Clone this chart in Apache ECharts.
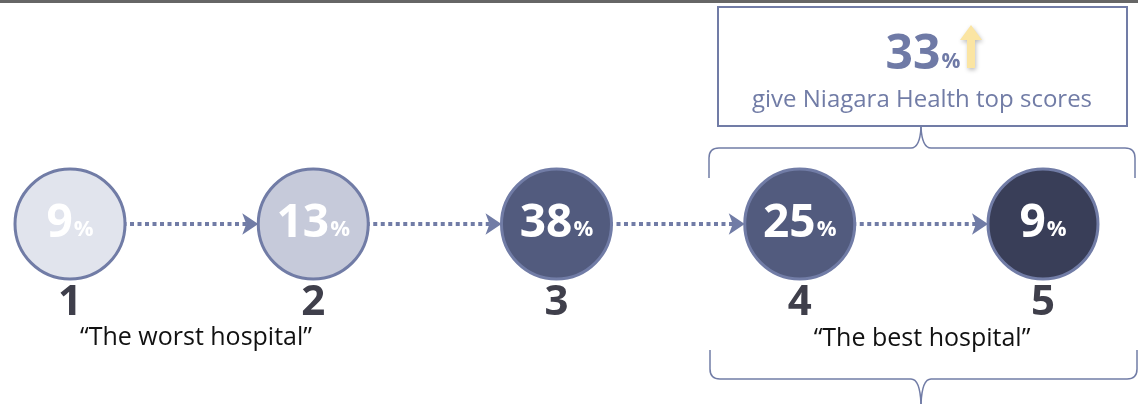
<!DOCTYPE html>
<html><head><meta charset="utf-8">
<script src="https://cdn.jsdelivr.net/npm/echarts@6/dist/echarts.min.js"></script>
<style>html,body{margin:0;padding:0;background:#fff}#c{width:1138px;height:404px}</style>
</head><body><div id="c"></div>
<script>
const ranks = ['1', '2', '3', '4', '5'];
const rankPos = [1, 2, 3, 4, 5];
const shares = [9, 13, 38, 25, 9];
const fills = ['#e1e4ed', '#c6cada', '#525b7e', '#525b7e', '#393e58'];
const topShare = 33;
const topText = 'give Niagara Health top scores';
const worstText = '\u201CThe worst hospital\u201D';
const bestText = '\u201CThe best hospital\u201D';

const FONT = '"Open Sans", "Noto Sans", sans-serif';
const BORDER = '#717ca6';

const nodes = ranks.map((r, i) => ({
  name: r,
  value: [rankPos[i], 0, shares[i]],
  itemStyle: { color: fills[i] }
}));
const links = ranks.slice(1).map((r, i) => ({ source: ranks[i], target: r }));

// brace drawn from straight lines and quadratic curves
function brace(xl, xr, yEnd, yBar, xTip, yTip, r) {
  const st = { stroke: BORDER, lineWidth: 1.5, fill: null };
  const dir = yBar < yEnd ? 1 : -1;
  const L = (x1, y1, x2, y2) => ({ type: 'line', shape: { x1, y1, x2, y2 }, style: st });
  const Q = (x1, y1, cx, cy, x2, y2) => ({ type: 'bezierCurve', shape: { x1, y1, cpx1: cx, cpy1: cy, x2, y2 }, style: st });
  return [
    L(xl, yEnd, xl, yBar + dir * r),
    Q(xl, yBar + dir * r, xl, yBar, xl + r, yBar),
    L(xl + r, yBar, xTip - 10, yBar),
    Q(xTip - 10, yBar, xTip - 1, yBar, xTip, yTip),
    Q(xTip, yTip, xTip + 1, yBar, xTip + 10, yBar),
    L(xTip + 10, yBar, xr - r, yBar),
    Q(xr - r, yBar, xr, yBar, xr, yBar + dir * r),
    L(xr, yBar + dir * r, xr, yEnd)
  ];
}

const chart = echarts.init(document.getElementById('c'));
chart.setOption({
  animation: false,
  grid: { left: 0, right: 0, top: 184, bottom: 140, containLabel: false },
  xAxis: {
    type: 'value', min: 0.7122, max: 5.3906,
    axisLine: { show: false }, axisTick: { show: false }, splitLine: { show: false },
    axisLabel: {
      customValues: rankPos,
      formatter: v => ranks[rankPos.indexOf(v)],
      fontFamily: FONT, fontWeight: 'bold', fontSize: 42, color: '#3f3f4b', margin: 18
    }
  },
  yAxis: { type: 'value', min: -1, max: 1, show: false },
  series: [{
    type: 'graph', coordinateSystem: 'cartesian2d', layout: 'none',
    symbol: 'circle', symbolSize: 110,
    itemStyle: { borderColor: BORDER, borderWidth: 3 },
    edgeSymbol: ['none', 'arrow'], edgeSymbolSize: [0, 16],
    lineStyle: { color: BORDER, width: 4, type: [4, 3.5], opacity: 1, curveness: 0 },
    label: {
      show: true, position: 'inside',
      formatter: p => '{n|' + p.value[2] + '}{p|%}',
      rich: {
        n: { fontFamily: FONT, fontWeight: 'bold', fontSize: 46, color: '#fff' },
        p: { fontFamily: FONT, fontWeight: 'bold', fontSize: 22, color: '#fff', padding: [12, 0, 0, 1] }
      }
    },
    emphasis: { disabled: true },
    data: nodes, links: links
  }],
  graphic: [
    { type: 'rect', shape: { x: 0, y: 0, width: 1138, height: 3 }, style: { fill: '#666' } },
    { type: 'rect', shape: { x: 718, y: 7, width: 409, height: 119 }, style: { fill: '#fff', stroke: BORDER, lineWidth: 2 } },
    { type: 'text', x: 923, y: 55, style: {
      text: '{n|' + topShare + '}{p|%}', align: 'center', verticalAlign: 'middle',
      rich: {
        n: { fontFamily: FONT, fontWeight: 'bold', fontSize: 48, fill: '#6f7aa6' },
        p: { fontFamily: FONT, fontWeight: 'bold', fontSize: 21, fill: '#6f7aa6', padding: [14, 0, 0, 1] }
      } } },
    { type: 'polygon', shape: { points: [[971, 25], [982, 40], [975, 40], [975, 68], [967, 68], [967, 40], [960, 40]] },
      style: { fill: '#fbe5a3', shadowBlur: 4, shadowColor: 'rgba(0,0,0,0.25)', shadowOffsetX: 1, shadowOffsetY: 2 } },
    { type: 'text', x: 922, y: 100, style: { text: topText, align: 'center', verticalAlign: 'middle',
      fontFamily: FONT, fontSize: 24, fill: '#717ca6' } },
    ...brace(709, 1135, 178, 148, 921, 127, 10),
    ...brace(710, 1137, 350, 379, 921, 404, 10),
    { type: 'text', x: 196, y: 338, style: { text: worstText, align: 'center', verticalAlign: 'middle',
      fontFamily: FONT, fontSize: 25, fill: '#111' } },
    { type: 'text', x: 922, y: 339, style: { text: bestText, align: 'center', verticalAlign: 'middle',
      fontFamily: FONT, fontSize: 25, fill: '#111' } }
  ]
});
</script></body></html>
